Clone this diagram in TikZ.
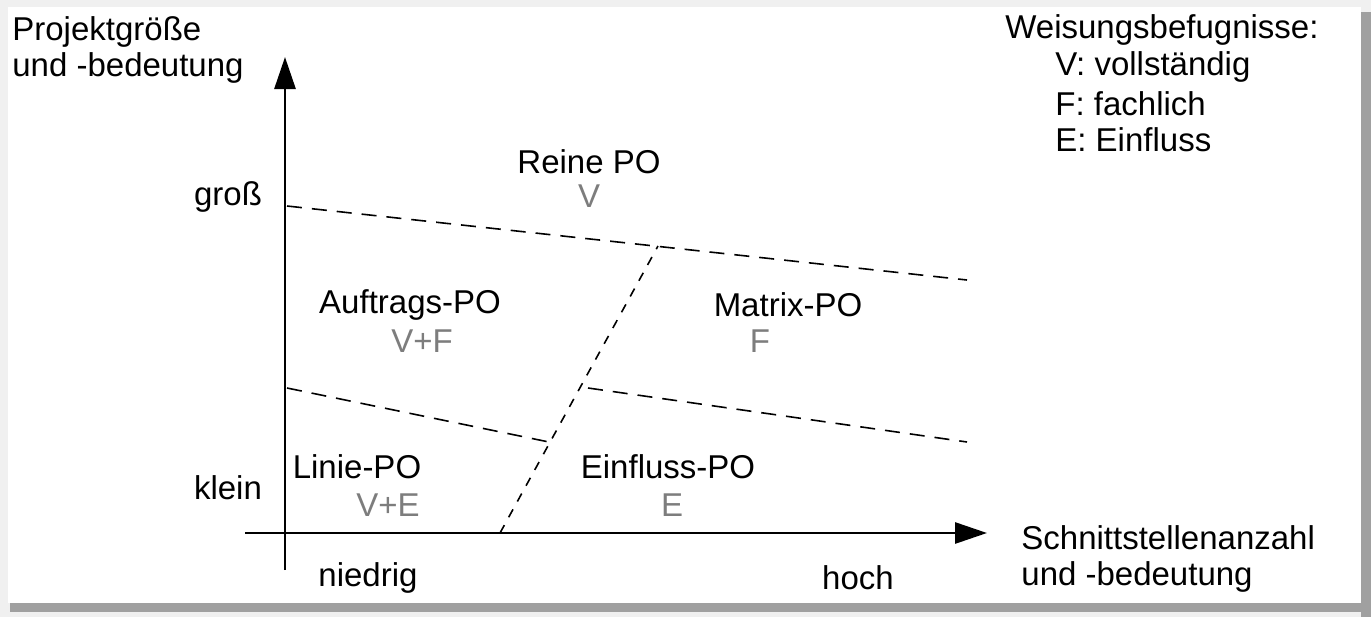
\documentclass[tikz,border=0pt]{standalone}
\usepackage{fontspec}
\setmainfont{Liberation Sans}
\usetikzlibrary{arrows.meta}
\definecolor{rightsgray}{RGB}{125,125,125}
\definecolor{shadowgray}{RGB}{160,160,160}
\tikzset{
  lbl/.style={inner sep=0pt, font=\fontsize{16.5}{18}\selectfont},
  rights/.style={lbl, text=rightsgray},
  axis/.style={line width=1.4pt},
  border/.style={line width=0.8pt, dash pattern=on 7.5pt off 5pt},
  slant/.style={line width=0.8pt, dash pattern=on 4.5pt off 4.5pt},
}
\begin{document}
\begin{tikzpicture}[x=0.5pt, y=-0.5pt, >={Triangle[length=16pt,width=10.5pt]}]
\useasboundingbox (0,0) rectangle (1371,617);
% paper and shadow
\fill[gray!12] (0,0) rectangle (1371,617);
\fill[shadowgray] (1361,12) rectangle (1371,617);
\fill[shadowgray] (10,603) rectangle (1371,612);
\fill[white] (8,7) rectangle (1361,603);
% axes
\coordinate (ybot) at (285,570);
\coordinate (ytop) at (285,57);
\coordinate (xleft) at (245,533);
\coordinate (xright) at (987,533);
\draw[axis, ->] (ybot) -- (ytop);
\draw[axis, ->] (xleft) -- (xright);
% borders between the forms
\coordinate (topL) at (287,206);
\coordinate (topR) at (967,280);
\coordinate (midL) at (287,388);
\coordinate (midM) at (549,442);
\coordinate (lowL) at (588,388);
\coordinate (lowR) at (967,442);
\coordinate (slB) at (500,533);
\coordinate (slT) at (658,246);
\draw[border] (topL) -- (topR);
\draw[border] (midL) -- (midM);
\draw[border] (lowL) -- (lowR);
\draw[slant] (slB) -- (slT);
% axis labels
\node[lbl, anchor=west, align=left] (ylabel) at (12,50) {Projektgröße\\und -bedeutung};
\node[lbl, anchor=west, align=left] (xlabel) at (1021,559) {Schnittstellenanzahl\\und -bedeutung};
\node[lbl] (gross) at (228,197) {groß};
\node[lbl] (klein) at (228,488) {klein};
\node[lbl] (niedrig) at (368,578) {niedrig};
\node[lbl] (hoch) at (858,578) {hoch};
% forms
\node[lbl] (reine) at (589,162) {Reine PO};
\node[rights] (reineR) at (589,196) {V};
\node[lbl] (auftrag) at (410,305) {Auftrags-PO};
\node[rights] (auftragR) at (422,341) {V+F};
\node[lbl] (matrix) at (788,305) {Matrix-PO};
\node[rights] (matrixR) at (760,341) {F};
\node[lbl] (linie) at (357,467) {Linie-PO};
\node[rights] (linieR) at (388,505) {V+E};
\node[lbl] (einfluss) at (668,467) {Einfluss-PO};
\node[rights] (einflussR) at (672,505) {E};
% legend
\node[lbl, anchor=west] (legend) at (1005,30) {Weisungsbefugnisse:};
\node[lbl, anchor=west] (legV) at (1055,67) {V: vollständig};
\node[lbl, anchor=west] (legF) at (1055,104) {F: fachlich};
\node[lbl, anchor=west] (legE) at (1055,140) {E: Einfluss};
\end{tikzpicture}
\end{document}
